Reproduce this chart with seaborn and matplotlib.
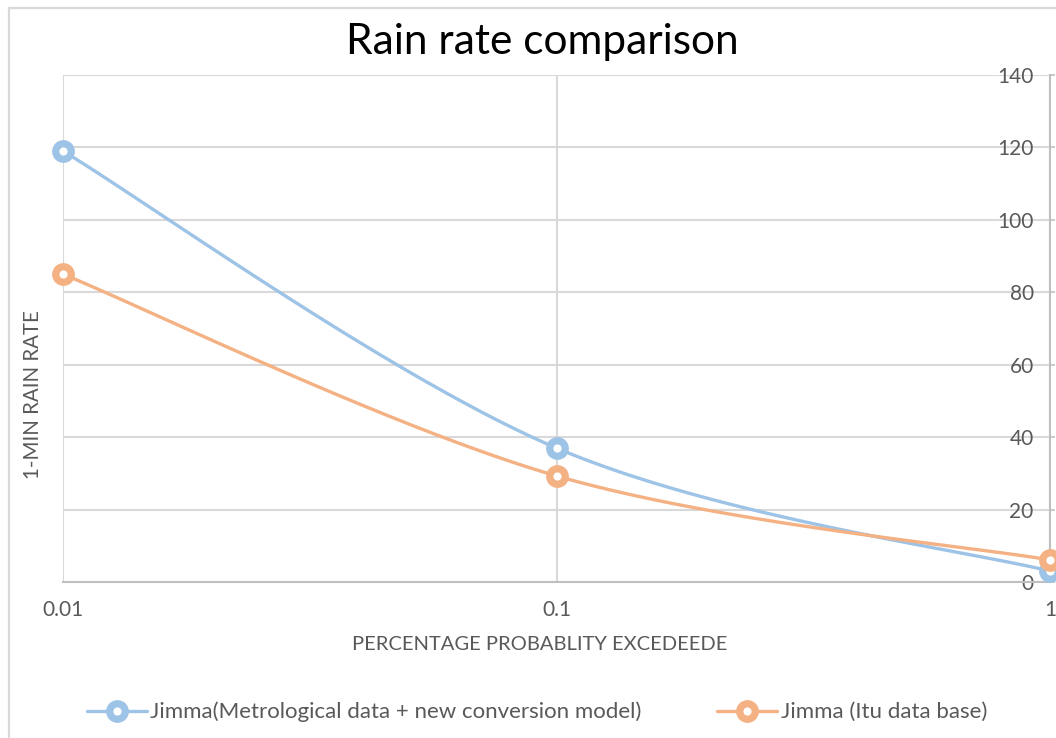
import numpy as np
import pandas as pd
import matplotlib
matplotlib.use("Agg")
import matplotlib.pyplot as plt
import seaborn as sns
from matplotlib.lines import Line2D
from matplotlib.patches import Rectangle

# Exceedance probabilities (%) and 1-min rain rates (mm/h)
probability = [0.01, 0.1, 1]
rate_met_model = [119, 37, 3]
rate_itu = [85, 29.3, 6.1]
series_names = ["Jimma(Metrological data + new conversion model)", "Jimma (Itu data base)"]
y_ticks = [0, 20, 40, 60, 80, 100, 120, 140]
x_ticks = [0.01, 0.1, 1]
x_tick_labels = ["0.01", "0.1", "1"]

BLUE = "#9dc3e6"
ORANGE = "#f4b183"
GRID = "#d9d9d9"
TEXT = "#595959"


def smooth_curve(xs, ys, n=60):
    """Catmull-Rom style Bezier smoothing through the points, in log-x space."""
    lx = np.log10(np.asarray(xs, float))
    y = np.asarray(ys, float)
    pts = np.column_stack([lx, y])
    out = []
    for i in range(len(pts) - 1):
        p0 = pts[i - 1] if i > 0 else pts[i]
        p1, p2 = pts[i], pts[i + 1]
        p3 = pts[i + 2] if i + 2 < len(pts) else pts[i + 1]
        c1 = p1 + (p2 - p0) / 6.0
        c2 = p2 - (p3 - p1) / 6.0
        t = np.linspace(0, 1, n)[:, None]
        seg = ((1 - t) ** 3) * p1 + 3 * ((1 - t) ** 2) * t * c1 + 3 * (1 - t) * t ** 2 * c2 + t ** 3 * p2
        out.append(seg if i == 0 else seg[1:])
    curve = np.vstack(out)
    return 10 ** curve[:, 0], curve[:, 1]


sns.set_theme(style="white")
plt.rcParams["font.family"] = ["Lato", "DejaVu Sans"]

W, H = 1056, 738
fig = plt.figure(figsize=(W / 100, H / 100), dpi=100)
ax = fig.add_axes([63 / W, 1 - 582 / H, (1050 - 63) / W, (582 - 75) / H])

ax.set_xscale("log")
ax.set_xlim(0.01, 1)
ax.set_ylim(0, 140)

for vals, color in [(rate_met_model, BLUE), (rate_itu, ORANGE)]:
    sx, sy = smooth_curve(probability, vals)
    sns.lineplot(x=sx, y=sy, ax=ax, color=color, linewidth=2.4,
                 sort=False, estimator=None, clip_on=False, zorder=3)
    ax.plot(probability, vals, linestyle="none", marker="o", markersize=11.2,
            markerfacecolor="white", markeredgecolor=color, markeredgewidth=5.2,
            clip_on=False, zorder=3)

# grid and axes
ax.set_xticks(x_ticks)
ax.set_xticklabels(x_tick_labels)
ax.xaxis.set_minor_locator(matplotlib.ticker.NullLocator())
ax.set_yticks(y_ticks)
ax.grid(True, which="major", color=GRID, linewidth=1.5, zorder=0)
ax.set_axisbelow(True)

for side in ["left", "top"]:
    ax.spines[side].set_visible(False)
for side in ["bottom", "right"]:
    ax.spines[side].set_visible(True)
    ax.spines[side].set_color("#bfbfbf")
    ax.spines[side].set_linewidth(1.5)

ax.tick_params(axis="x", length=0, pad=13, labelsize=15, labelcolor=TEXT)
ax.yaxis.tick_right()
ax.tick_params(axis="y", which="major", direction="out", length=3.6, width=1.2,
               color="#bfbfbf", pad=-15.3, labelsize=15, labelcolor=TEXT,
               right=True, left=False, labelright=True, labelleft=False)
for lab in ax.get_yticklabels():
    lab.set_horizontalalignment("right")

ax.set_xlabel("PERCENTAGE PROBABLITY EXCEDEEDE", fontsize=14.5, color=TEXT)
ax.xaxis.set_label_coords((540 - 63) / (1050 - 63), (582 - 645) / (582 - 75))
ax.xaxis.label.set_va("center")
ax.set_ylabel("1-MIN RAIN RATE", fontsize=14.8, color=TEXT)
ax.yaxis.set_label_position("left")
ax.yaxis.set_label_coords((33 - 63) / (1050 - 63), (582 - 395) / (582 - 75))
ax.yaxis.label.set_va("center")

fig.text(542 / W, 1 - 42 / H, "Rain rate comparison", fontsize=30.5,
         color="black", ha="center", va="center")

handles = [
    Line2D([], [], color=c, linewidth=2.4, marker="o", markersize=11.2,
           markerfacecolor="white", markeredgecolor=c, markeredgewidth=5.2)
    for c in (BLUE, ORANGE)
]
fig.legend(handles, series_names, loc="center", bbox_to_anchor=(537 / W, 1 - 712 / H),
           ncol=2, frameon=False, fontsize=16, labelcolor=TEXT,
           handlelength=2.7, handletextpad=0.15, columnspacing=3.4)

# outer chart border
fig.add_artist(Rectangle((9 / W, -0.1), 2.0, 1 - 8 / H + 0.1, transform=fig.transFigure,
                         fill=False, edgecolor=GRID, linewidth=1.6))

fig.savefig("out.png", dpi=100)
